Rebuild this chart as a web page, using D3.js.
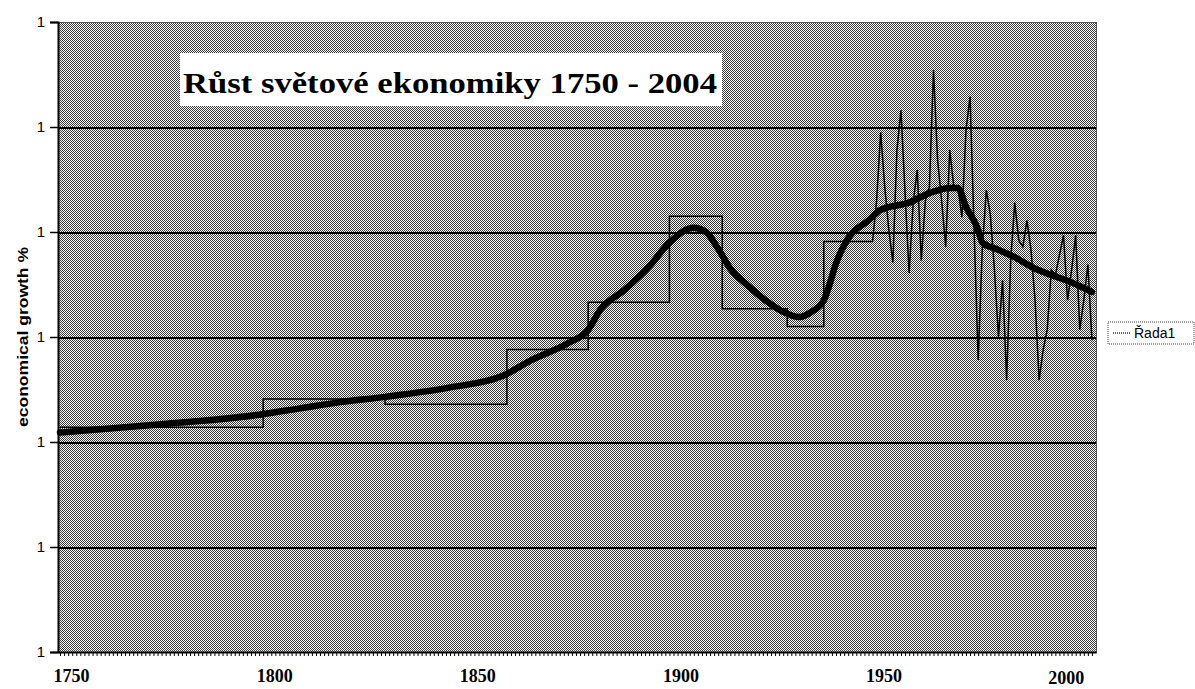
<!DOCTYPE html>
<html>
<head>
<meta charset="utf-8">
<script src="https://cdn.jsdelivr.net/npm/d3@7"></script>
<style>
    body { margin: 0; background: #fff; }
    svg { display: block; }
</style>
</head>
<body>
<svg id="chart" width="1195" height="689"></svg>
<script>
// values are growth factors (1.02 = 2 % a year), axis shows them rounded to "1"

// period averages (step line), last entry closes the 1938-1950 step
var periodStarts = [1750, 1800, 1830, 1860, 1880, 1900, 1913, 1929, 1938, 1950];
var periodValues = [1.0214, 1.0241, 1.0236, 1.0288, 1.0333, 1.0415, 1.0327, 1.0310, 1.0391, 1.0391];

// yearly growth 1950 - 2004 (thin jagged line)
var annualYears = d3.range(1950, 2005);
var annualValues = [
    1.0391, 1.0430, 1.0495, 1.0443, 1.0402, 1.0371, 1.0478, 1.0516, 1.0437, 1.0361,
    1.0428, 1.0459, 1.0373, 1.0430, 1.0443, 1.0554, 1.0469, 1.0430, 1.0386, 1.0478,
    1.0443, 1.0443, 1.0414, 1.0497, 1.0529, 1.0402, 1.0278, 1.0383, 1.0440, 1.0416,
    1.0364, 1.0300, 1.0354, 1.0259, 1.0373, 1.0428, 1.0392, 1.0386, 1.0411, 1.0383,
    1.0335, 1.0259, 1.0288, 1.0307, 1.0364, 1.0359, 1.0378, 1.0397, 1.0335, 1.0364,
    1.0397, 1.0307, 1.0335, 1.0369, 1.0297
];

// smoothed trend (thick line)
var smoothYears = [1750, 1772, 1799, 1809, 1819, 1830, 1846, 1859, 1866, 1875, 1880, 1883, 1889, 1895,
    1900, 1906, 1909, 1912, 1915, 1919, 1924, 1928, 1932, 1935, 1938, 1939, 1941, 1944, 1949,
    1952, 1959, 1964, 1969, 1971, 1973, 1976, 1977, 1981, 1985, 1989, 1994, 1999, 2004];
var smoothValues = [1.0209, 1.0216, 1.0226, 1.0232, 1.0238, 1.0243, 1.0252, 1.0263, 1.0278, 1.0294, 1.0307, 1.0326, 1.0345, 1.0367,
    1.0390, 1.0404, 1.0400, 1.0384, 1.0365, 1.0350, 1.0334, 1.0324, 1.0319, 1.0324, 1.0335, 1.0345, 1.0370, 1.0394, 1.0411,
    1.0421, 1.0428, 1.0437, 1.0442, 1.0442, 1.0424, 1.0402, 1.0390, 1.0383, 1.0376, 1.0367, 1.0359, 1.0352, 1.0343];

var yTicks = [1.00, 1.01, 1.02, 1.03, 1.04, 1.05, 1.06];
var xLabels = [1750, 1800, 1850, 1900, 1950, 2000];

var titleText = "Růst světové ekonomiky 1750 - 2004";
var yTitle = "economical growth %";
var seriesName = "Řada1";

var margin = { top: 22, right: 99, bottom: 37, left: 58 };
var W = 1195, H = 689;
var width = W - margin.left - margin.right;
var height = H - margin.top - margin.bottom;

var svg = d3.select("#chart");

// dithered grey fill like the scanned original
var defs = svg.append("defs");
var pat = defs.append("pattern")
    .attr("id", "dither")
    .attr("patternUnits", "userSpaceOnUse")
    .attr("width", 2).attr("height", 2);
pat.append("rect").attr("width", 2).attr("height", 2).attr("fill", "#fbfbfb");
pat.append("rect").attr("width", 1).attr("height", 1).attr("fill", "#3c3c3c");
pat.append("rect").attr("x", 1).attr("y", 1).attr("width", 1).attr("height", 1).attr("fill", "#3c3c3c");

var g = svg.append("g")
    .attr("transform", "translate(" + margin.left + "," + margin.top + ")");

var x = d3.scaleLinear().domain([1749.5, 2005]).range([0, width]);
var y = d3.scaleLinear().domain([1.00, 1.06]).range([height, 0]);

// plot background
g.append("rect")
    .attr("width", width)
    .attr("height", height)
    .attr("fill", "url(#dither)")
    .attr("stroke", "#555")
    .attr("stroke-width", 1)
    .attr("shape-rendering", "crispEdges");

// horizontal gridlines
var grid = g.append("g")
    .attr("class", "grid")
    .call(d3.axisLeft(y).tickValues(yTicks.slice(1, -1)).tickSize(-width).tickFormat(""));
grid.select(".domain").remove();
grid.selectAll("line")
    .attr("stroke", "#000")
    .attr("stroke-width", 2)
    .attr("shape-rendering", "crispEdges");

// y axis with every label rounded to "1"
var yAxis = g.append("g")
    .call(d3.axisLeft(y).tickValues(yTicks).tickSize(8).tickPadding(5).tickFormat(d3.format(".0f")));
yAxis.select(".domain").attr("stroke", "#000").attr("stroke-width", 2);
yAxis.selectAll(".tick line").attr("stroke", "#000").attr("stroke-width", 1.5);
yAxis.selectAll("text")
    .attr("font-family", "Liberation Sans, Arial, sans-serif")
    .attr("font-size", 15)
    .attr("fill", "#000");

// x axis: one small tick per year
var xMinor = g.append("g")
    .attr("transform", "translate(0," + height + ")")
    .call(d3.axisBottom(x).tickValues(d3.range(1750, 2005)).tickSize(4).tickFormat("").tickSizeOuter(0));
xMinor.select(".domain").attr("stroke", "#000").attr("stroke-width", 2);
xMinor.selectAll(".tick line").attr("stroke", "#000").attr("stroke-width", 1);

var xAxis = g.append("g")
    .attr("transform", "translate(0," + height + ")")
    .call(d3.axisBottom(x).tickValues(xLabels).tickSize(0).tickPadding(17).tickFormat(d3.format("d")));
xAxis.select(".domain").remove();
xAxis.selectAll("text")
    .attr("dx", 11)
    .attr("font-family", "Liberation Serif, Times New Roman, serif")
    .attr("font-weight", "bold")
    .attr("font-size", 18)
    .attr("fill", "#000");
// the last label sits a little left and lower in the original
xAxis.selectAll("text")
    .filter(function (d) { return d === 2000; })
    .attr("dx", -10)
    .attr("dy", "0.82em");

// period step line
var stepLine = d3.line()
    .x(function (d, i) { return x(periodStarts[i]); })
    .y(function (d) { return y(d); })
    .curve(d3.curveStepAfter);

g.append("path")
    .datum(periodValues)
    .attr("d", stepLine)
    .attr("fill", "none")
    .attr("stroke", "#000")
    .attr("stroke-width", 1.5);

// annual series
var annualLine = d3.line()
    .x(function (d, i) { return x(annualYears[i]); })
    .y(function (d) { return y(d); });

g.append("path")
    .datum(annualValues)
    .attr("d", annualLine)
    .attr("fill", "none")
    .attr("stroke", "#000")
    .attr("stroke-width", 1.5);

// thick trend
var trendLine = d3.line()
    .x(function (d, i) { return x(smoothYears[i]); })
    .y(function (d) { return y(d); })
    .curve(d3.curveMonotoneX);

g.append("path")
    .datum(smoothValues)
    .attr("d", trendLine)
    .attr("fill", "none")
    .attr("stroke", "#000")
    .attr("stroke-width", 6.5)
    .attr("stroke-linecap", "round")
    .attr("stroke-linejoin", "round");

// title box
svg.append("rect")
    .attr("x", 180).attr("y", 53)
    .attr("width", 542).attr("height", 53)
    .attr("fill", "#fff");
svg.append("text")
    .attr("x", 183).attr("y", 93)
    .attr("textLength", 534)
    .attr("lengthAdjust", "spacingAndGlyphs")
    .attr("font-family", "Liberation Serif, Times New Roman, serif")
    .attr("font-weight", "bold")
    .attr("font-size", 30)
    .attr("fill", "#000")
    .text(titleText);

// y axis title
svg.append("text")
    .attr("transform", "translate(28," + (margin.top + height / 2) + ") rotate(-90)")
    .attr("text-anchor", "middle")
    .attr("textLength", 180)
    .attr("lengthAdjust", "spacingAndGlyphs")
    .attr("font-family", "Liberation Sans, Arial, sans-serif")
    .attr("font-weight", "bold")
    .attr("font-size", 15)
    .attr("fill", "#000")
    .text(yTitle);

// legend
var legend = svg.append("g").attr("transform", "translate(1108,322)");
legend.append("rect")
    .attr("width", 86).attr("height", 22)
    .attr("fill", "#fff")
    .attr("stroke", "#444")
    .attr("stroke-dasharray", "1,1");
legend.append("line")
    .attr("x1", 5).attr("x2", 23)
    .attr("y1", 11).attr("y2", 11)
    .attr("stroke", "#333")
    .attr("stroke-width", 1.5)
    .attr("stroke-dasharray", "1,1");
legend.append("text")
    .attr("x", 26).attr("y", 16)
    .attr("font-family", "Liberation Sans, Arial, sans-serif")
    .attr("font-size", 14)
    .attr("fill", "#000")
    .text(seriesName);
</script>
</body>
</html>
